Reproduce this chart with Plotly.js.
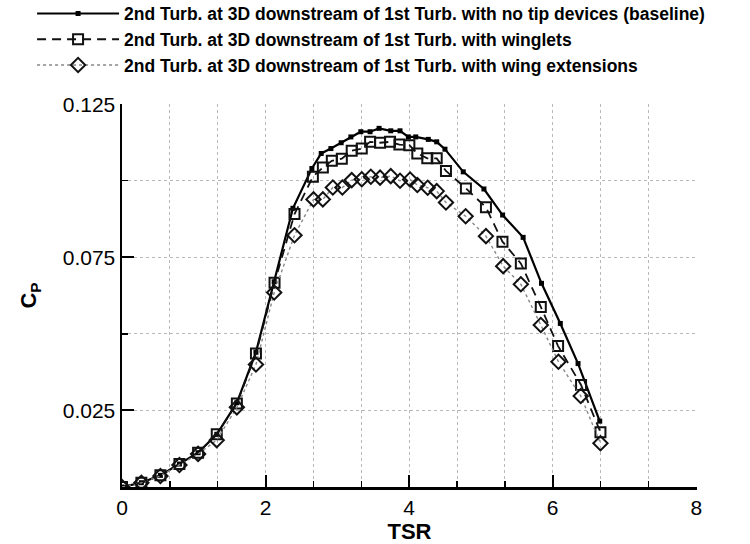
<!DOCTYPE html>
<html>
<head>
<meta charset="utf-8">
<script src="https://cdn.plot.ly/plotly-3.0.1.min.js"></script>
<style>html,body{margin:0;padding:0;background:#fff;}#chart{width:750px;height:544px;}</style>
</head>
<body>
<div id="chart"></div>
<script>
// TSR and Cp values
var baseX = [0, 0.27, 0.535, 0.80, 1.06, 1.32, 1.60, 1.866, 2.12, 2.381, 2.645, 2.775, 2.91, 3.053, 3.188, 3.327, 3.456, 3.581, 3.744, 3.873, 3.989, 4.092, 4.267, 4.384, 4.499, 4.754, 5.042, 5.302, 5.588, 5.844, 6.106, 6.353, 6.655];
var baseY = [0, 0.0014, 0.0038, 0.0075, 0.0112, 0.0172, 0.0275, 0.0440, 0.0670, 0.0910, 0.1040, 0.1089, 0.1105, 0.1124, 0.1143, 0.1160, 0.1160, 0.1171, 0.1163, 0.1163, 0.1143, 0.1143, 0.1135, 0.1127, 0.1103, 0.1029, 0.0973, 0.0888, 0.0815, 0.0665, 0.0534, 0.0403, 0.0215];

var wingletX = [0, 0.27, 0.535, 0.80, 1.06, 1.32, 1.60, 1.866, 2.125, 2.403, 2.659, 2.798, 2.923, 3.062, 3.2, 3.34, 3.456, 3.595, 3.734, 3.864, 4.003, 4.114, 4.253, 4.384, 4.513, 4.791, 5.07, 5.30, 5.556, 5.834, 6.075, 6.395, 6.665];
var wingletY = [0, 0.0014, 0.0038, 0.0075, 0.0112, 0.0172, 0.0273, 0.0436, 0.0667, 0.0891, 0.1013, 0.1043, 0.1065, 0.1072, 0.1098, 0.1105, 0.1127, 0.1124, 0.1127, 0.1118, 0.1116, 0.1089, 0.1073, 0.1073, 0.1032, 0.0975, 0.0913, 0.0801, 0.0730, 0.0588, 0.0460, 0.0333, 0.0179];

var extX = [0, 0.27, 0.535, 0.80, 1.06, 1.32, 1.60, 1.866, 2.12, 2.403, 2.668, 2.798, 2.937, 3.07, 3.2, 3.34, 3.466, 3.595, 3.744, 3.873, 4.013, 4.114, 4.258, 4.384, 4.513, 4.787, 5.07, 5.31, 5.556, 5.834, 6.08, 6.39, 6.665];
var extY = [0, 0.0014, 0.0036, 0.0072, 0.0108, 0.0153, 0.0260, 0.0400, 0.0635, 0.0822, 0.0939, 0.0939, 0.0978, 0.0978, 0.1002, 0.1005, 0.1013, 0.1010, 0.1015, 0.1000, 0.1004, 0.0986, 0.0977, 0.0966, 0.0929, 0.0884, 0.0819, 0.0721, 0.0662, 0.0529, 0.0409, 0.0297, 0.0143];

var names = [
  "2nd Turb. at 3D downstream of 1st Turb. with no tip devices (baseline)",
  "2nd Turb. at 3D downstream of 1st Turb. with winglets",
  "2nd Turb. at 3D downstream of 1st Turb. with wing extensions"
];
var xTickVals = [0, 2, 4, 6, 8];
var yTickVals = [0.025, 0.075, 0.125];

var traces = [
  {x: baseX, y: baseY, name: names[0], type: 'scatter', mode: 'lines+markers',
   line: {color: '#000', width: 2.2},
   marker: {symbol: 'square', size: 5, color: '#000'}},
  {x: wingletX, y: wingletY, name: names[1], type: 'scatter', mode: 'lines+markers',
   line: {color: '#111', width: 1.8, dash: '9px,6px'},
   marker: {symbol: 'square-open', size: 10, color: '#111', line: {width: 2}}},
  {x: extX, y: extY, name: names[2], type: 'scatter', mode: 'lines+markers',
   line: {color: '#888', width: 1.4, dash: 'dot'},
   marker: {symbol: 'diamond-open', size: 11, color: '#111', line: {width: 2}}}
];

var gridCol = '#b8b8b8';
var layout = {
  width: 750, height: 544,
  margin: {l: 121.5, r: 53, t: 104, b: 57, pad: 0, autoexpand: false},
  paper_bgcolor: '#fff', plot_bgcolor: '#fff',
  font: {family: 'Liberation Sans, Arial, sans-serif', color: '#000'},
  showlegend: true,
  legend: {
    xref: 'paper', yref: 'paper', x: -0.1564, y: 1.283,
    xanchor: 'left', yanchor: 'top',
    font: {family: 'Liberation Sans, Arial, sans-serif', size: 17.5, weight: 'bold', color: '#000'},
    itemwidth: 82, tracegroupgap: 0, bgcolor: 'rgba(0,0,0,0)'
  },
  xaxis: {
    range: [0, 8.01], tickvals: xTickVals, ticktext: xTickVals.map(String),
    ticks: 'inside', ticklen: 12, tickwidth: 2, tickcolor: '#000',
    showline: true, linecolor: '#000', linewidth: 2.5,
    showgrid: true, gridcolor: gridCol, griddash: 'dot', gridwidth: 1,
    zeroline: false, automargin: true,
    tickfont: {size: 21, family: 'Liberation Sans, Arial, sans-serif'},
    minor: {dtick: 2/3, tick0: 0, ticks: 'inside', ticklen: 6, tickwidth: 1.5, tickcolor: '#000',
            showgrid: true, gridcolor: gridCol, griddash: 'dot', gridwidth: 1},
    title: {text: 'TSR', font: {size: 22, weight: 'bold'}, standoff: 0}
  },
  yaxis: {
    range: [0, 0.12505], tickvals: yTickVals, ticktext: ['0.025', '0.075', '0.125'],
    ticks: 'inside', ticklen: 12, tickwidth: 2, tickcolor: '#000',
    showline: true, linecolor: '#000', linewidth: 2.5,
    showgrid: true, gridcolor: gridCol, griddash: 'dot', gridwidth: 1,
    zeroline: false, automargin: true,
    tickfont: {size: 21, family: 'Liberation Sans, Arial, sans-serif'},
    minor: {dtick: 0.025, tick0: 0, ticks: 'inside', ticklen: 6, tickwidth: 1.5, tickcolor: '#000',
            showgrid: true, gridcolor: gridCol, griddash: 'dot', gridwidth: 1},
    title: {text: 'C<sub>P</sub>', font: {size: 22, weight: 'bold'}, standoff: 20}
  }
};

Plotly.newPlot('chart', traces, layout, {displayModeBar: false, staticPlot: true});
</script>
</body>
</html>
